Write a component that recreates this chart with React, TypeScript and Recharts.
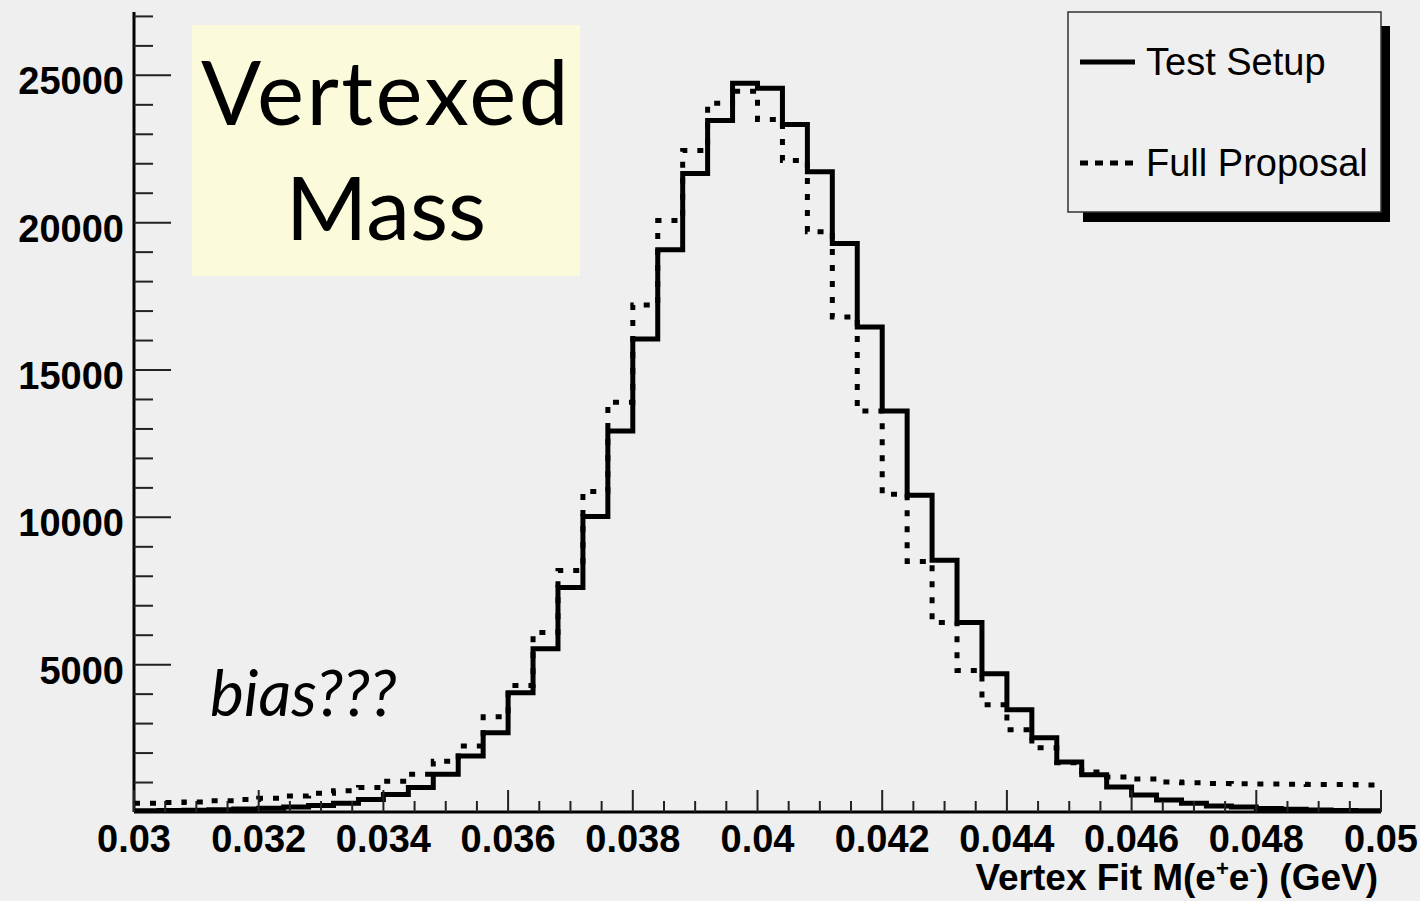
import React from "react";
import { LineChart, Line, XAxis, YAxis } from "recharts";

// histogram binning: 50 bins of 0.0004 GeV from 0.03 to 0.05
const BIN_LOW = 0.03;
const BIN_WIDTH = 0.0004;

// "Test Setup" (solid) bin contents
const testSetup = [
  40, 50, 60, 80, 100, 130, 170, 220, 300, 420,
  590, 830, 1280, 1900, 2690, 4050, 5540, 7620, 10030, 12930,
  16050, 19080, 21670, 23470, 24730, 24560, 23330, 21730, 19290, 16460,
  13610, 10750, 8540, 6430, 4690, 3470, 2520, 1700, 1260, 850,
  580, 410, 300, 200, 170, 120, 90, 70, 50, 40,
];

// "Full Proposal" (dotted) bin contents
const fullProposal = [
  300, 320, 340, 380, 420, 470, 540, 640, 720, 830,
  1040, 1280, 1720, 2240, 3230, 4290, 6090, 8200, 10880, 13910,
  17210, 20070, 22450, 24050, 24460, 23500, 22110, 19690, 16800, 13610,
  10780, 8500, 6430, 4800, 3640, 2790, 2180, 1670, 1360, 1190,
  1120, 1020, 990, 970, 960, 950, 940, 930, 930, 920,
];

const xMajor = [0.03, 0.032, 0.034, 0.036, 0.038, 0.04, 0.042, 0.044, 0.046, 0.048, 0.05];
const xLabels = ["0.03", "0.032", "0.034", "0.036", "0.038", "0.04", "0.042", "0.044", "0.046", "0.048", "0.05"];
const yMajor = [5000, 10000, 15000, 20000, 25000];
const yLabels = ["5000", "10000", "15000", "20000", "25000"];

const X_DOMAIN = [0.03, 0.05];
const Y_MAX = 27150;

// minor ticks: every 0.0005 on x, every 1000 on y
const xTicks: number[] = [];
for (let i = 0; i <= 40; i++) xTicks.push(Math.round((0.03 + i * 0.0005) * 1e5) / 1e5);
const yTicks: number[] = [];
for (let v = 1000; v <= 27000; v += 1000) yTicks.push(v);

// rows at bin low edges, plus closing point at the upper edge
const rows = testSetup.map((v, i) => ({
  x: Math.round((BIN_LOW + i * BIN_WIDTH) * 1e5) / 1e5,
  solid: v,
  dotted: fullProposal[i],
}));
rows.push({
  x: X_DOMAIN[1],
  solid: testSetup[testSetup.length - 1],
  dotted: fullProposal[fullProposal.length - 1],
});

const AXIS_FONT = "'Liberation Sans', Arial, Helvetica, sans-serif";
const NOTE_FONT = "Lato, 'Open Sans', sans-serif";

function XTick(props: any) {
  const { x, y, payload } = props;
  const idx = xMajor.findIndex((v) => Math.abs(v - payload.value) < 1e-7);
  const major = idx >= 0;
  return (
    <g>
      <line x1={x} x2={x} y1={y} y2={y - (major ? 22 : 11)} stroke="#222" strokeWidth={2} />
      {major && (
        <text x={x} y={y + 40} textAnchor="middle" fontFamily={AXIS_FONT} fontWeight="bold" fontSize={38} fill="#000">
          {xLabels[idx]}
        </text>
      )}
    </g>
  );
}

function YTick(props: any) {
  const { x, y, payload } = props;
  const idx = yMajor.indexOf(payload.value);
  const major = idx >= 0;
  return (
    <g>
      <line x1={x} x2={x + (major ? 37 : 19)} y1={y} y2={y} stroke="#222" strokeWidth={2} />
      {major && (
        <text x={x - 10} y={y + 19} textAnchor="end" fontFamily={AXIS_FONT} fontWeight="bold" fontSize={38} fill="#000">
          {yLabels[idx]}
        </text>
      )}
    </g>
  );
}

export default function App() {
  return (
    <div style={{ position: "absolute", left: 0, top: 0, width: 1420, height: 901, background: "#efefef", overflow: "hidden" }}>
      <LineChart width={1420} height={901} data={rows} margin={{ top: 12, right: 39, bottom: 29, left: 14 }}>
        <XAxis
          dataKey="x"
          type="number"
          domain={X_DOMAIN}
          allowDataOverflow
          ticks={xTicks}
          interval={0}
          tick={<XTick />}
          tickLine={false}
          tickSize={0}
          tickMargin={0}
          height={60}
          axisLine={{ stroke: "#000", strokeWidth: 3 }}
        />
        <YAxis
          type="number"
          domain={[0, Y_MAX]}
          allowDataOverflow
          ticks={yTicks}
          interval={0}
          tick={<YTick />}
          tickLine={false}
          tickSize={0}
          tickMargin={0}
          width={120}
          axisLine={{ stroke: "#000", strokeWidth: 3 }}
        />
        <XAxis
          xAxisId="top"
          orientation="top"
          type="number"
          domain={X_DOMAIN}
          tick={false}
          tickLine={false}
          height={0}
          axisLine={{ stroke: "#555", strokeWidth: 2 }}
        />
        <YAxis
          yAxisId="right"
          orientation="right"
          type="number"
          domain={[0, Y_MAX]}
          tick={false}
          tickLine={false}
          width={0}
          axisLine={{ stroke: "#555", strokeWidth: 2 }}
        />
        <Line
          type="stepAfter"
          dataKey="dotted"
          stroke="#000"
          strokeWidth={5}
          strokeDasharray="6 10"
          dot={false}
          isAnimationActive={false}
        />
        <Line
          type="stepAfter"
          dataKey="solid"
          stroke="#000"
          strokeWidth={5}
          dot={false}
          isAnimationActive={false}
        />
      </LineChart>

      <svg width={1420} height={901} style={{ position: "absolute", left: 0, top: 0, pointerEvents: "none" }}>
        {/* note box */}
        <rect x={192} y={25} width={388} height={251} fill="#fbfbdb" />
        <text x={386} y={125} textAnchor="middle" fontFamily={NOTE_FONT} fontSize={89} letterSpacing={2.5} fill="#000">
          Vertexed
        </text>
        <text x={386} y={240} textAnchor="middle" fontFamily={NOTE_FONT} fontSize={88} fill="#000">
          Mass
        </text>
        <text x={210} y={716} fontFamily={NOTE_FONT} fontStyle="italic" fontSize={64} fill="#000">
          bias???
        </text>

        {/* legend */}
        <rect x={1083} y={26} width={307} height={196} fill="#000" />
        <rect x={1068} y={12} width={313} height={200} fill="#efefef" stroke="#333" strokeWidth={1.5} />
        <line x1={1080} x2={1135} y1={62} y2={62} stroke="#000" strokeWidth={5} />
        <text x={1146} y={75} fontFamily={AXIS_FONT} fontSize={38} fill="#000">
          Test Setup
        </text>
        <line x1={1080} x2={1135} y1={163} y2={163} stroke="#000" strokeWidth={5} strokeDasharray="8 7" />
        <text x={1146} y={176} fontFamily={AXIS_FONT} fontSize={38} fill="#000">
          Full Proposal
        </text>

        {/* x axis title */}
        <text x={1378} y={890} textAnchor="end" fontFamily={AXIS_FONT} fontWeight="bold" fontSize={37} fill="#000">
          <tspan>Vertex Fit M(e</tspan>
          <tspan dy={-14} fontSize={22}>+</tspan>
          <tspan dy={14}>e</tspan>
          <tspan dy={-14} fontSize={22}>-</tspan>
          <tspan dy={14}>) (GeV)</tspan>
        </text>
      </svg>
    </div>
  );
}
